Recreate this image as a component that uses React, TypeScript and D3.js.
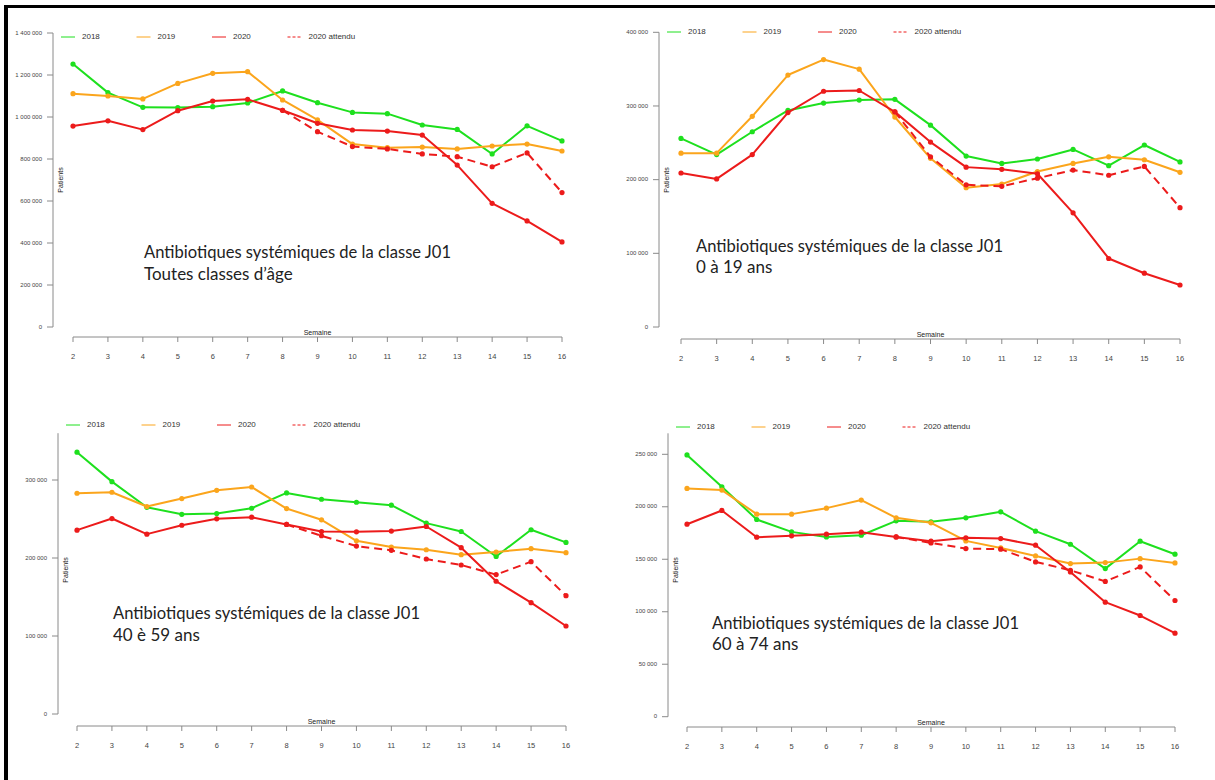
import React from "react";
import * as d3 from "d3";

// ---------- DATA ----------
const weeks = [2, 3, 4, 5, 6, 7, 8, 9, 10, 11, 12, 13, 14, 15, 16];
const weeksExpected = [8, 9, 10, 11, 12, 13, 14, 15, 16];
const seriesLabels = ["2018", "2019", "2020", "2020 attendu"];

// Toutes classes d'âge
const all2018 = [1252000, 1116000, 1046000, 1045000, 1049000, 1067000, 1124000, 1068000, 1022000, 1016000, 962000, 941000, 824000, 958000, 886000];
const all2019 = [1111000, 1100000, 1086000, 1160000, 1208000, 1216000, 1081000, 986000, 871000, 854000, 857000, 848000, 862000, 871000, 838000];
const all2020 = [957000, 982000, 940000, 1030000, 1076000, 1084000, 1032000, 970000, 938000, 933000, 914000, 771000, 589000, 505000, 405000];
const allExpected = [1032000, 930000, 859000, 848000, 824000, 811000, 763000, 829000, 640000];
const allTicks = [0, 200000, 400000, 600000, 800000, 1000000, 1200000, 1400000];

// 0 à 19 ans
const young2018 = [256000, 234000, 265000, 294000, 304000, 308000, 309000, 274000, 232000, 222000, 228000, 241000, 219000, 247000, 224000];
const young2019 = [236000, 236000, 286000, 342000, 363000, 350000, 285000, 229000, 189000, 194000, 211000, 222000, 231000, 227000, 210000];
const young2020 = [209000, 201000, 234000, 291000, 320000, 321000, 292000, 251000, 217000, 214000, 208000, 155000, 93000, 73000, 57000];
const youngExpected = [292000, 231000, 193000, 191000, 202000, 213000, 206000, 218000, 162000];
const youngTicks = [0, 100000, 200000, 300000, 400000];

// 40 à 59 ans
const mid2018 = [335700, 297900, 265000, 256000, 257000, 263800, 283400, 275300, 271500, 267700, 244700, 234000, 202000, 236200, 220000];
const mid2019 = [283000, 284300, 266000, 276200, 286800, 291000, 263400, 249000, 222000, 214000, 210600, 204300, 207700, 212000, 206800];
const mid2020 = [235700, 250600, 230600, 242000, 250200, 252300, 243000, 234000, 233600, 234500, 240400, 213200, 170200, 142700, 112800];
const midExpected = [243000, 228500, 215300, 209800, 198700, 191000, 178700, 195300, 151700];
const midTicks = [0, 100000, 200000, 300000];

// 60 à 74 ans
const senior2018 = [249400, 219100, 187900, 176100, 171300, 172900, 186600, 185700, 189500, 195200, 176800, 164300, 141100, 167200, 154800];
const senior2019 = [217500, 215900, 193000, 193000, 198700, 206400, 189500, 184700, 167500, 160800, 153200, 145900, 146800, 150600, 146500];
const senior2020 = [183400, 196500, 171000, 172300, 173900, 175800, 171300, 167200, 170400, 169700, 163400, 137900, 109100, 96400, 79600];
const seniorExpected = [171300, 165600, 160200, 159600, 147500, 139500, 128900, 142700, 110700];
const seniorTicks = [0, 50000, 100000, 150000, 200000, 250000];

const titleLine1 = "Antibiotiques systémiques de la classe J01";
const subtitles = ["Toutes classes d’âge", "0 à 19 ans", "40 è 59 ans", "60 à 74 ans"];

// ---------- STYLE ----------
const GREEN = "#1ee01e";
const ORANGE = "#fba51c";
const RED = "#ec1b1b";
const AXIS = "#8a8a8a";
const LABEL = "#444";
const SANS = "'Liberation Sans', Arial, sans-serif";
const ANNOT_FONT = "Lato, 'Open Sans', sans-serif";

type Panel = {
  s2018: number[];
  s2019: number[];
  s2020: number[];
  expected: number[];
  ticks: number[];
  subtitle: string;
  axisX: number;
  xRange: [number, number];
  yPix: [number, number];
  yDom: [number, number];
  axisTop: number;
  xAxisY: number;
  legendY: number;
  patientsY: number;
  annot: [number, number, number];
};

const panels: Panel[] = [
  {
    s2018: all2018, s2019: all2019, s2020: all2020, expected: allExpected, ticks: allTicks, subtitle: subtitles[0],
    axisX: 53, xRange: [73, 562], yPix: [327, 33], yDom: [0, 1400000], axisTop: 1400000,
    xAxisY: 337, legendY: 37, patientsY: 180, annot: [144, 258, 280],
  },
  {
    s2018: young2018, s2019: young2019, s2020: young2020, expected: youngExpected, ticks: youngTicks, subtitle: subtitles[1],
    axisX: 659, xRange: [681, 1180], yPix: [327, 32.3], yDom: [0, 400000], axisTop: 400000,
    xAxisY: 339, legendY: 32, patientsY: 180, annot: [696, 252, 273],
  },
  {
    s2018: mid2018, s2019: mid2019, s2020: mid2020, expected: midExpected, ticks: midTicks, subtitle: subtitles[2],
    axisX: 58, xRange: [77, 566], yPix: [714, 480], yDom: [0, 300000], axisTop: 360000,
    xAxisY: 726, legendY: 425, patientsY: 570, annot: [113, 619, 641],
  },
  {
    s2018: senior2018, s2019: senior2019, s2020: senior2020, expected: seniorExpected, ticks: seniorTicks, subtitle: subtitles[3],
    axisX: 668, xRange: [687, 1175], yPix: [716.7, 454.3], yDom: [0, 250000], axisTop: 270000,
    xAxisY: 727, legendY: 427, patientsY: 570, annot: [712, 629, 650],
  },
];

const fmt = (v: number) => d3.format(",")(v).replace(/,/g, " ");

function ChartPanel({ p }: { p: Panel }) {
  const x = d3.scaleLinear().domain([weeks[0], weeks[weeks.length - 1]]).range(p.xRange);
  const y = d3.scaleLinear().domain(p.yDom).range(p.yPix);
  const line = d3
    .line<[number, number]>()
    .x((d) => x(d[0]))
    .y((d) => y(d[1]));
  const pts = (ws: number[], vs: number[]) => ws.map((w, i) => [w, vs[i]] as [number, number]);

  const series = [
    { data: pts(weeks, p.s2018), color: GREEN, dash: undefined as string | undefined },
    { data: pts(weeks, p.s2019), color: ORANGE, dash: undefined },
    { data: pts(weeksExpected, p.expected), color: RED, dash: "8 5" },
    { data: pts(weeks, p.s2020), color: RED, dash: undefined },
  ];

  const legendColors = [GREEN, ORANGE, RED, RED];
  const xMid = (p.xRange[0] + p.xRange[1]) / 2;

  return (
    <g>
      {/* Y axis */}
      <line x1={p.axisX} x2={p.axisX} y1={y(0)} y2={y(p.axisTop)} stroke={AXIS} strokeWidth={1} />
      {p.ticks.map((t) => (
        <g key={t}>
          <line x1={p.axisX - 6} x2={p.axisX} y1={y(t)} y2={y(t)} stroke={AXIS} strokeWidth={1} />
          <text x={p.axisX - 11} y={y(t)} textAnchor="end" dominantBaseline="middle" fontSize={6} fontFamily={SANS} fill={LABEL}>
            {fmt(t)}
          </text>
        </g>
      ))}
      <text
        transform={`translate(${p.axisX + 10},${p.patientsY}) rotate(-90)`}
        textAnchor="middle"
        fontSize={7}
        fontFamily={SANS}
        fill="#222"
      >
        Patients
      </text>

      {/* X axis */}
      <line x1={p.xRange[0]} x2={p.xRange[1]} y1={p.xAxisY} y2={p.xAxisY} stroke={AXIS} strokeWidth={1} />
      {weeks.map((w) => (
        <g key={w}>
          <line x1={x(w)} x2={x(w)} y1={p.xAxisY} y2={p.xAxisY + 5} stroke={AXIS} strokeWidth={1} />
          <text x={x(w)} y={p.xAxisY + 20} textAnchor="middle" dominantBaseline="middle" fontSize={7.5} fontFamily={SANS} fill={LABEL}>
            {w}
          </text>
        </g>
      ))}
      <text x={xMid} y={p.xAxisY - 2} textAnchor="middle" fontSize={7} fontFamily={SANS} fill="#222">
        Semaine
      </text>

      {/* Series */}
      {series.map((s, i) => (
        <g key={i}>
          <path d={line(s.data) || ""} fill="none" stroke={s.color} strokeWidth={2} strokeDasharray={s.dash} strokeLinejoin="round" />
          {s.data.map((d, j) => (
            <circle key={j} cx={x(d[0])} cy={y(d[1])} r={2.6} fill={s.color} />
          ))}
        </g>
      ))}

      {/* Legend */}
      <rect x={p.axisX + 1} y={p.legendY - 10} width={330} height={20} fill="#fff" />
      {seriesLabels.map((lab, i) => {
        const tx = p.axisX + 29 + i * 75.5;
        return (
          <g key={lab}>
            <line
              x1={tx - 21}
              x2={tx - 7}
              y1={p.legendY}
              y2={p.legendY}
              stroke={legendColors[i]}
              strokeWidth={1}
              strokeDasharray={i === 3 ? "3 2" : undefined}
            />
            <text x={tx} y={p.legendY} dominantBaseline="middle" fontSize={8} fontFamily={SANS} fill="#333">
              {lab}
            </text>
          </g>
        );
      })}

      {/* Annotation */}
      <text x={p.annot[0]} y={p.annot[1]} fontSize={17} fontFamily={ANNOT_FONT} fill="#222" textLength={307} lengthAdjust="spacingAndGlyphs">
        {titleLine1}
      </text>
      <text x={p.annot[0]} y={p.annot[2]} fontSize={17} fontFamily={ANNOT_FONT} fill="#222">
        {p.subtitle}
      </text>
    </g>
  );
}

export default function App() {
  return (
    <svg
      width={1215}
      height={780}
      style={{ position: "fixed", left: 0, top: 0, background: "#fff" }}
      xmlns="http://www.w3.org/2000/svg"
    >
      <rect x={0} y={0} width={1215} height={780} fill="#fff" />
      {panels.map((p, i) => (
        <ChartPanel key={i} p={p} />
      ))}
      {/* Frame */}
      <rect x={4} y={5} width={1211} height={3} fill="#000" />
      <rect x={4} y={5} width={4} height={775} fill="#000" />
    </svg>
  );
}
